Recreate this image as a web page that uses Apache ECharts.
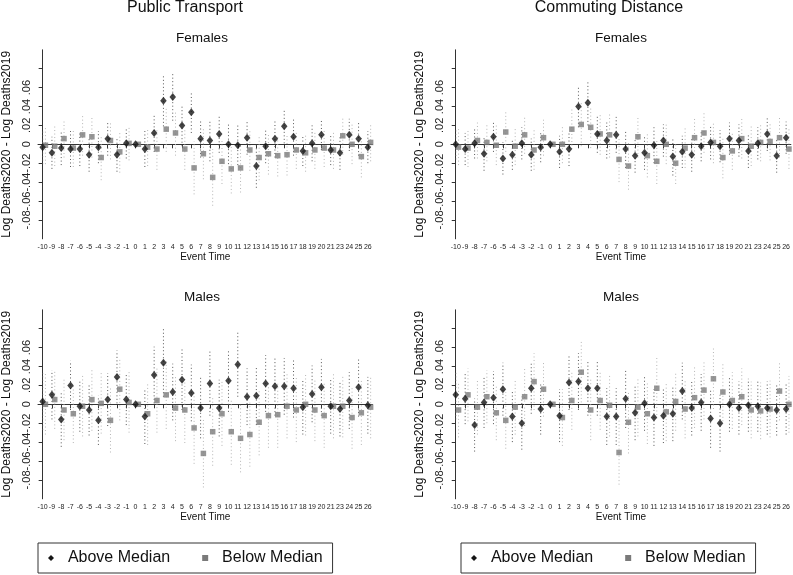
<!DOCTYPE html>
<html>
<head>
<meta charset="utf-8">
<script src="https://cdn.jsdelivr.net/npm/echarts@6/dist/echarts.min.js"></script>
<style>
html,body{margin:0;padding:0;background:#fff;}
#chart{width:793px;height:575px;}
</style>
</head>
<body>
<div id="chart"></div>
<script>
// ---- Data ----
const eventTime = ['-10','-9','-8','-7','-6','-5','-4','-3','-2','-1','0','1','2','3','4','5','6','7','8','9','10','11','12','13','14','15','16','17','18','19','20','21','23','24','25','26'];
const yTickValues = [-0.08,-0.06,-0.04,-0.02,0,0.02,0.04,0.06];

// Public Transport, Females
const ptFemAbove = [-0.003,-0.009,-0.004,-0.005,-0.005,-0.011,-0.003,0.006,-0.011,0.001,0.000,-0.005,0.012,0.046,0.050,0.020,0.034,0.006,0.004,0.011,0.000,-0.001,0.007,-0.023,-0.002,0.006,0.019,0.008,-0.007,0.001,0.010,-0.006,-0.009,0.010,0.006,-0.003];
const ptFemBelow = [-0.001,-0.002,0.006,-0.004,0.010,0.008,-0.014,0.004,-0.008,0.001,0.000,-0.003,-0.005,0.016,0.012,-0.005,-0.025,-0.010,-0.035,-0.018,-0.026,-0.025,-0.006,-0.014,-0.010,-0.012,-0.011,-0.006,-0.009,-0.006,-0.004,-0.006,0.009,0.000,-0.013,0.002];
const ptFemAboveCI = [0.018,0.017,0.018,0.019,0.018,0.018,0.017,0.018,0.018,0.016,0,0.019,0.020,0.027,0.025,0.022,0.022,0.020,0.022,0.020,0.021,0.021,0.018,0.023,0.018,0.020,0.018,0.020,0.016,0.019,0.016,0.016,0.018,0.017,0.018,0.017];
const ptFemBelowCI = [0.020,0.021,0.020,0.020,0.022,0.022,0.024,0.020,0.022,0.018,0,0.020,0.022,0.024,0.024,0.022,0.028,0.027,0.030,0.024,0.026,0.026,0.022,0.024,0.022,0.022,0.022,0.020,0.020,0.020,0.020,0.020,0.020,0.021,0.022,0.020];

// Commuting Distance, Females
const cdFemAbove = [0.000,-0.005,0.001,-0.010,0.008,-0.015,-0.011,0.001,-0.011,-0.003,0.000,-0.008,-0.005,0.040,0.044,0.011,0.004,0.010,-0.005,-0.012,-0.009,-0.001,0.004,-0.013,-0.008,-0.011,-0.002,0.002,-0.002,0.006,0.004,-0.007,0.001,0.011,-0.012,0.007];
const cdFemBelow = [-0.003,-0.004,0.004,0.002,-0.001,0.013,-0.002,0.010,-0.006,0.007,0.000,0.000,0.016,0.021,0.018,0.011,0.010,-0.016,-0.023,0.008,-0.012,-0.018,0.000,-0.020,-0.004,0.007,0.012,0.002,-0.014,-0.007,0.006,-0.002,0.002,0.003,0.007,-0.005];
const cdFemAboveCI = [0.016,0.017,0.016,0.018,0.016,0.017,0.016,0.017,0.017,0.016,0,0.017,0.018,0.022,0.024,0.020,0.019,0.019,0.020,0.018,0.018,0.019,0.017,0.020,0.017,0.018,0.016,0.018,0.017,0.017,0.017,0.018,0.017,0.018,0.018,0.017];
const cdFemBelowCI = [0.019,0.020,0.019,0.020,0.021,0.021,0.020,0.020,0.021,0.019,0,0.020,0.021,0.023,0.022,0.022,0.024,0.024,0.025,0.022,0.023,0.024,0.021,0.022,0.021,0.022,0.021,0.022,0.022,0.020,0.021,0.021,0.020,0.020,0.021,0.021];

// Public Transport, Males
const ptMaleAbove = [0.003,0.010,-0.016,0.020,-0.002,-0.006,-0.017,0.005,0.029,0.005,0.000,-0.013,0.031,0.044,0.013,0.026,0.012,-0.004,0.022,-0.004,0.025,0.042,0.008,0.009,0.022,0.019,0.019,0.017,-0.003,0.011,0.018,-0.002,-0.005,0.004,0.018,-0.001];
const ptMaleBelow = [0.000,0.005,-0.006,-0.010,-0.002,0.005,0.001,-0.017,0.016,0.002,0.000,-0.010,0.004,0.010,-0.004,-0.006,-0.025,-0.052,-0.029,-0.010,-0.029,-0.036,-0.032,-0.019,-0.012,-0.011,-0.002,-0.006,0.000,-0.006,-0.012,-0.002,-0.002,-0.014,-0.009,-0.003];
const ptMaleAboveCI = [0.030,0.026,0.029,0.026,0.027,0.027,0.026,0.028,0.028,0.027,0,0.029,0.030,0.036,0.030,0.032,0.030,0.032,0.034,0.030,0.033,0.034,0.030,0.031,0.030,0.031,0.030,0.031,0.029,0.030,0.030,0.029,0.029,0.030,0.031,0.030];
const ptMaleBelowCI = [0.032,0.031,0.032,0.031,0.032,0.033,0.032,0.034,0.033,0.032,0,0.033,0.034,0.036,0.035,0.035,0.038,0.036,0.036,0.034,0.035,0.036,0.034,0.035,0.034,0.035,0.034,0.034,0.033,0.033,0.034,0.034,0.033,0.033,0.034,0.033];

// Commuting Distance, Males
const cdMaleAbove = [0.010,0.006,-0.022,0.002,0.007,0.016,-0.013,-0.020,0.017,-0.005,0.000,-0.012,0.023,0.024,0.017,0.017,-0.013,-0.013,0.006,-0.009,0.001,-0.014,-0.012,-0.010,0.014,-0.004,0.002,-0.015,-0.020,0.000,-0.004,-0.001,-0.002,-0.004,-0.006,-0.005];
const cdMaleBelow = [-0.006,0.010,-0.003,0.008,-0.009,-0.017,-0.003,0.008,0.024,0.016,0.000,-0.014,0.004,0.034,-0.006,0.004,-0.001,-0.051,-0.019,-0.003,-0.010,0.017,-0.008,0.003,-0.005,0.007,0.015,0.027,0.013,0.004,0.008,-0.006,-0.007,-0.005,0.014,0.000];
const cdMaleAboveCI = [0.026,0.027,0.028,0.027,0.028,0.028,0.027,0.028,0.027,0.027,0,0.028,0.029,0.030,0.029,0.029,0.030,0.030,0.031,0.029,0.029,0.030,0.029,0.029,0.030,0.029,0.030,0.031,0.030,0.029,0.028,0.028,0.027,0.028,0.027,0.027];
const cdMaleBelowCI = [0.029,0.028,0.029,0.028,0.029,0.030,0.029,0.031,0.030,0.029,0,0.030,0.031,0.032,0.032,0.031,0.033,0.034,0.033,0.031,0.032,0.032,0.031,0.031,0.031,0.032,0.031,0.032,0.031,0.030,0.030,0.030,0.030,0.030,0.031,0.030];

const belowOffset = 0.3;

// ---- Layout ----
const FONT = 'Liberation Sans, Arial, sans-serif';
const grids = [
  {left: 30.5, top: 49.8, width: 342, height: 189},
  {left: 451, top: 49.8, width: 341, height: 189},
  {left: 30.5, top: 309.8, width: 342, height: 189},
  {left: 451, top: 309.8, width: 341, height: 189}
];
const panels = [
  {above: ptFemAbove, below: ptFemBelow, aCI: ptFemAboveCI, bCI: ptFemBelowCI},
  {above: cdFemAbove, below: cdFemBelow, aCI: cdFemAboveCI, bCI: cdFemBelowCI},
  {above: ptMaleAbove, below: ptMaleBelow, aCI: ptMaleAboveCI, bCI: ptMaleBelowCI},
  {above: cdMaleAbove, below: cdMaleBelow, aCI: cdMaleAboveCI, bCI: cdMaleBelowCI}
];

function fmtY(v) {
  const r = Math.round(v * 100);
  if (r <= -10 || r >= 8) return '';
  if (r === 0) return '0';
  const s = (Math.abs(r) < 10 ? '0' : '') + Math.abs(r);
  return (r < 0 ? '-' : '') + '.' + s;
}

const xAxes = [], yAxes = [], series = [];
grids.forEach((g, gi) => {
  xAxes.push({
    type: 'category', gridIndex: gi, data: eventTime, boundaryGap: true,
    name: 'Event Time', nameLocation: 'middle', nameGap: 13,
    nameTextStyle: {fontFamily: FONT, fontSize: 10, color: '#111'},
    axisLine: {lineStyle: {color: '#333', width: 1}},
    axisTick: {show: true, alignWithLabel: true, interval: 0, length: 4, lineStyle: {color: '#333'}},
    axisLabel: {interval: 0, fontFamily: FONT, fontSize: 7, color: '#222', margin: 5},
    splitLine: {show: false}
  });
});
grids.forEach((g, gi) => {
  xAxes.push({
    type: 'value', gridIndex: gi, min: -0.5, max: 35.5, show: false
  });
});
grids.forEach((g, gi) => {
  yAxes.push({
    type: 'value', gridIndex: gi, min: -0.1, max: 0.1, interval: 0.02,
    name: 'Log Deaths2020 - Log Deaths2019', nameLocation: 'middle', nameGap: 25,
    nameTextStyle: {fontFamily: FONT, fontSize: 12, color: '#111'},
    axisLine: {show: true, lineStyle: {color: '#333', width: 1}},
    axisTick: {show: true, length: 4, lineStyle: {color: '#333'}},
    axisLabel: {formatter: fmtY, rotate: 90, fontFamily: FONT, fontSize: 11, color: '#222', margin: 6,
      showMinLabel: false, showMaxLabel: false},
    splitLine: {show: false}
  });
});

function ciSeries(name, gi, vals, ci, off, color) {
  return {
    name: name, type: 'custom', xAxisIndex: 4 + gi, yAxisIndex: gi, z: 1,
    silent: true,
    data: vals.map((v, i) => [i + off, v - ci[i], v + ci[i]]),
    encode: {x: 0, y: [1, 2]},
    renderItem: function (params, api) {
      const p1 = api.coord([api.value(0), api.value(1)]);
      const p2 = api.coord([api.value(0), api.value(2)]);
      return {type: 'line', shape: {x1: p1[0], y1: p1[1], x2: p2[0], y2: p2[1]},
        style: {stroke: color, lineWidth: 1, lineDash: [1, 2.5]}};
    }
  };
}

panels.forEach((p, gi) => {
  series.push(ciSeries('Above Median', gi, p.above, p.aCI, 0, '#555'));
  series.push(ciSeries('Below Median', gi, p.below, p.bCI, belowOffset, '#b5b5b5'));
  series.push({
    name: 'Above Median', type: 'scatter', xAxisIndex: 4 + gi, yAxisIndex: gi, z: 3,
    symbol: 'diamond', symbolSize: [6.5, 8],
    itemStyle: {color: '#151515'},
    data: p.above.map((v, i) => [i, v])
  });
  series.push({
    name: 'Below Median', type: 'scatter', xAxisIndex: 4 + gi, yAxisIndex: gi, z: 2,
    symbol: 'rect', symbolSize: 5.5,
    itemStyle: {color: '#7a7a7a'},
    data: p.below.map((v, i) => [i + belowOffset, v])
  });
});

function legend(left) {
  return {
    left: left, top: 543, orient: 'horizontal',
    borderColor: '#333', borderWidth: 1, padding: [7, 10],
    itemWidth: 6, itemHeight: 6, itemGap: 32,
    textStyle: {fontFamily: FONT, fontSize: 16, color: '#111', lineHeight: 16},
    formatter: n => '  ' + n,
    selectedMode: false,
    data: [{name: 'Above Median', icon: 'diamond', itemStyle: {color: '#151515'}},
           {name: 'Below Median', icon: 'rect', itemStyle: {color: '#7a7a7a'}}]
  };
}

const titles = [
  {text: 'Public Transport', left: 185, top: 0, textAlign: 'center', textStyle: {fontFamily: FONT, fontSize: 16, fontWeight: 'normal', color: '#111'}},
  {text: 'Commuting Distance', left: 609, top: 0, textAlign: 'center', textStyle: {fontFamily: FONT, fontSize: 16, fontWeight: 'normal', color: '#111'}},
  {text: 'Females', left: 202, top: 31, textAlign: 'center', textStyle: {fontFamily: FONT, fontSize: 13.5, fontWeight: 'normal', color: '#111'}},
  {text: 'Females', left: 621, top: 31, textAlign: 'center', textStyle: {fontFamily: FONT, fontSize: 13.5, fontWeight: 'normal', color: '#111'}},
  {text: 'Males', left: 202, top: 290, textAlign: 'center', textStyle: {fontFamily: FONT, fontSize: 13.5, fontWeight: 'normal', color: '#111'}},
  {text: 'Males', left: 621, top: 290, textAlign: 'center', textStyle: {fontFamily: FONT, fontSize: 13.5, fontWeight: 'normal', color: '#111'}}
];
titles.forEach(t => { t.padding = 0; });

const chart = echarts.init(document.getElementById('chart'), null, {renderer: 'canvas'});
chart.setOption({
  backgroundColor: '#fff',
  animation: false,
  title: titles,
  grid: grids,
  xAxis: xAxes,
  yAxis: yAxes,
  legend: [legend(38), legend(461)],
  series: series
});
</script>
</body>
</html>
